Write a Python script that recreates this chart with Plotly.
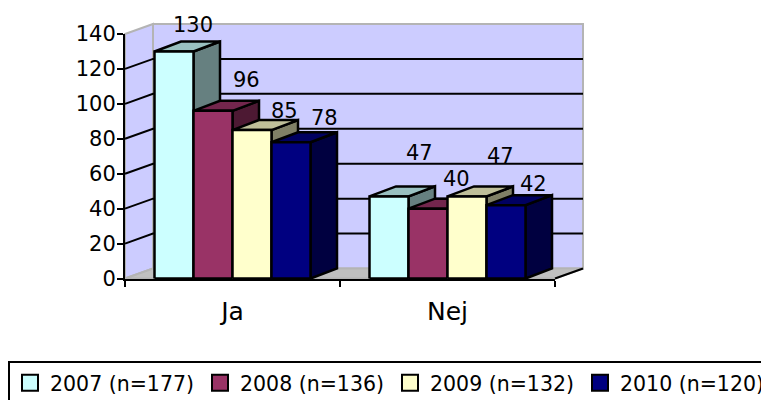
import plotly.graph_objects as go

categories = ["Ja", "Nej"]
series_names = ["2007 (n=177)", "2008 (n=136)", "2009 (n=132)", "2010 (n=120)"]
values_2007 = [130, 47]
values_2008 = [96, 40]
values_2009 = [85, 47]
values_2010 = [78, 42]
all_values = [values_2007, values_2008, values_2009, values_2010]
y_ticks = [0, 20, 40, 60, 80, 100, 120, 140]

# colours: front, top, side
front_colors = ["#CCFFFF", "#993366", "#FFFFCC", "#000080"]
top_colors = ["#99C0C0", "#73264D", "#BFBF99", "#000060"]
side_colors = ["#668080", "#4D1933", "#808066", "#000040"]
WALL = "#CCCCFF"
FLOOR = "#C0C0C0"
GREY = "#B4B4B4"

# geometry: the page body adds an 8 px margin, so the figure is 761x392 and offsets are 8 px less
PAGE = 8
W, H = 769 - PAGE, 400 - PAGE
X0, X1 = 125 - PAGE, 555 - PAGE      # px extents of front x axis
Y0, Y140 = 278.5 - PAGE, 34 - PAGE   # px of value 0 and value 140
CAT_PX = (X1 - X0) / 2
VAL_PX = (Y0 - Y140) / 140
WALL_DX = 28 / CAT_PX
WALL_DY = 10 / VAL_PX
BAR_DX = 26.5 / CAT_PX
BAR_DY = 10 / VAL_PX
BAR_W = 39 / CAT_PX
GROUP_PAD = (1 - 4 * BAR_W) / 2
YMAX = y_ticks[-1]
FONT = "DejaVu Sans, Verdana, sans-serif"

# per-label pixel offsets from bar-top centre, series by category
label_shift_x = [[19, 30], [33, 28], [32, 33], [33, 27]]
label_shift_y = [[26, 43], [31, 30], [19, 40], [24, 21]]


def poly(xs, ys, fill, line_color="black", line_width=2.5):
    return go.Scatter(
        x=xs + [xs[0]], y=ys + [ys[0]], xaxis="x", yaxis="y", mode="lines", fill="toself",
        fillcolor=fill, line=dict(color=line_color, width=line_width),
        hoverinfo="skip", showlegend=False,
    )


def line(xs, ys, color="black", width=2):
    return go.Scatter(
        x=xs, y=ys, xaxis="x", yaxis="y", mode="lines", line=dict(color=color, width=width),
        hoverinfo="skip", showlegend=False, connectgaps=False,
    )


fig = go.Figure()

# walls and floor
fig.add_trace(poly([0, WALL_DX, WALL_DX, 0], [0, WALL_DY, YMAX + WALL_DY, YMAX], WALL, GREY, 2))
fig.add_trace(poly([WALL_DX, 2 + WALL_DX, 2 + WALL_DX, WALL_DX],
                   [WALL_DY, WALL_DY, YMAX + WALL_DY, YMAX + WALL_DY], WALL, GREY, 2))
fig.add_trace(poly([0, WALL_DX, 2 + WALL_DX, 2], [0, WALL_DY, WALL_DY, 0], FLOOR, GREY, 2))

# gridlines (side wall + back wall)
gx, gy = [], []
for t in y_ticks[1:-1]:
    gx += [0, WALL_DX, 2 + WALL_DX, None]
    gy += [t, t + WALL_DY, t + WALL_DY, None]
fig.add_trace(line(gx, gy))
fig.add_trace(line([2, 2 + WALL_DX], [0, WALL_DY]))

# bars, left to right
annotations = []
for c in range(len(categories)):
    for s, vals in enumerate(all_values):
        v = vals[c]
        l = c + GROUP_PAD + s * BAR_W
        r = l + BAR_W
        fig.add_trace(poly([r, r + BAR_DX, r + BAR_DX, r], [0, BAR_DY, v + BAR_DY, v], side_colors[s]))
        fig.add_trace(poly([l, l + BAR_DX, r + BAR_DX, r], [v, v + BAR_DY, v + BAR_DY, v], top_colors[s]))
        fig.add_trace(poly([l, r, r, l], [0, 0, v, v], front_colors[s]))
        annotations.append(dict(
            x=(l + r) / 2, y=v, xref="x", yref="y", text=str(v), showarrow=False,
            xshift=label_shift_x[s][c], yshift=label_shift_y[s][c], yanchor="middle",
            font=dict(family=FONT, size=21, color="black"),
        ))

# legend entries
for s, name in enumerate(series_names):
    fig.add_trace(go.Scatter(
        x=[None], y=[None], xaxis="x", yaxis="y", mode="markers", name=name,
        marker=dict(symbol="square", size=17, color=front_colors[s], line=dict(color="black", width=2)),
        hoverinfo="skip",
    ))

# invisible trace that carries the visible category axis, drawn above the marks
fig.add_trace(go.Scatter(x=categories, y=[0, 0], xaxis="x2", yaxis="y2", mode="markers",
                         marker=dict(opacity=0), hoverinfo="skip", showlegend=False))

fig.update_layout(
    width=W, height=H, paper_bgcolor="white", plot_bgcolor="rgba(0,0,0,0)",
    margin=dict(l=0, r=0, t=0, b=0, pad=0, autoexpand=False), autosize=False, hovermode=False,
    annotations=annotations,
    font=dict(family=FONT, color="black"),
    # full-page axes sharing the scale of the visible axes
    xaxis=dict(domain=[0, 1], range=[-X0 / CAT_PX, (W - X0) / CAT_PX], visible=False, anchor="y"),
    yaxis=dict(domain=[0, 1], range=[-(H - Y0) / VAL_PX, Y0 / VAL_PX], visible=False, anchor="x"),
    xaxis2=dict(
        domain=[X0 / W, X1 / W], type="category", categoryorder="array", categoryarray=categories,
        range=[-0.5, 1.5], tickson="boundaries", ticks="outside", ticklen=6, tickwidth=2, tickcolor="black",
        showline=True, linecolor="black", linewidth=2, showgrid=False, zeroline=False,
        tickfont=dict(family=FONT, size=25, color="black"), ticklabelstandoff=9, anchor="y2",
    ),
    yaxis2=dict(
        domain=[(H - Y0) / H, (H - Y140) / H], range=[0, YMAX], tickvals=y_ticks, ticks="outside", ticklen=6,
        tickwidth=2, tickcolor="black", showline=True, linecolor="black", linewidth=2, showgrid=False,
        zeroline=False, tickfont=dict(family=FONT, size=21, color="black"), ticklabelstandoff=-3, anchor="x2",
    ),
    legend=dict(
        orientation="h", x=0, xanchor="left", y=(H - (361 - PAGE)) / H, yanchor="top",
        bordercolor="black", borderwidth=2, bgcolor="white",
        font=dict(family=FONT, size=20.5, color="black"),
        entrywidth=145, entrywidthmode="pixels", itemclick=False, itemdoubleclick=False,
    ),
)

fig.write_html("out.html", config=dict(displayModeBar=False))
